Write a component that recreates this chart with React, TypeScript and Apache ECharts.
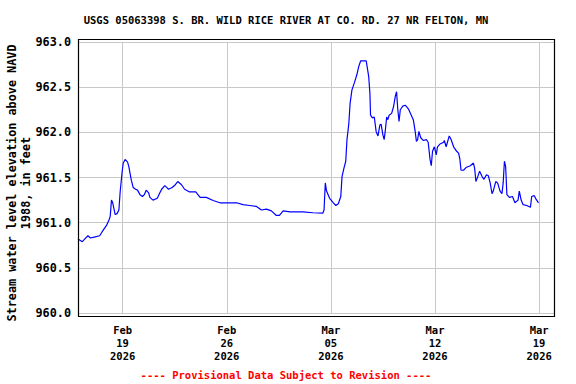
import React, { useEffect, useRef } from "react";
import * as echarts from "echarts";

const TITLE = "USGS 05063398 S. BR. WILD RICE RIVER AT CO. RD. 27 NR FELTON, MN";
const Y_NAME = "Stream water level elevation above NAVD\n1988, in feet";
const FOOTER = "---- Provisional Data Subject to Revision ----";

const X_MIN = "2026-02-16 00:00";
const X_MAX = "2026-03-20 00:00";
const TICK_DATES = ["2026-02-19 00:00", "2026-02-26 00:00", "2026-03-05 00:00", "2026-03-12 00:00", "2026-03-19 00:00"];
const MONTHS = ["Jan", "Feb", "Mar", "Apr", "May", "Jun", "Jul", "Aug", "Sep", "Oct", "Nov", "Dec"];

const Y_MIN = 960;
const Y_MAX = 963;
const Y_STEP = 0.5;

const times = [
  "2026-02-16 00:00", "2026-02-16 07:00", "2026-02-16 11:00", "2026-02-16 16:00", "2026-02-16 20:00",
  "2026-02-17 02:00", "2026-02-17 11:00", "2026-02-17 15:00", "2026-02-17 22:00", "2026-02-18 02:00",
  "2026-02-18 04:00", "2026-02-18 06:00", "2026-02-18 08:00", "2026-02-18 12:00", "2026-02-18 15:00",
  "2026-02-18 18:00", "2026-02-18 20:00", "2026-02-18 23:00", "2026-02-19 01:00", "2026-02-19 04:00",
  "2026-02-19 08:00", "2026-02-19 10:00", "2026-02-19 14:00", "2026-02-19 17:00", "2026-02-19 21:00",
  "2026-02-20 00:00", "2026-02-20 04:00", "2026-02-20 08:00", "2026-02-20 11:00", "2026-02-20 14:00",
  "2026-02-20 18:00", "2026-02-20 20:00", "2026-02-21 01:00", "2026-02-21 08:00", "2026-02-21 12:00",
  "2026-02-21 15:00", "2026-02-21 20:00", "2026-02-21 23:00", "2026-02-22 02:00", "2026-02-22 08:00",
  "2026-02-22 13:00", "2026-02-22 17:00", "2026-02-22 23:00", "2026-02-23 04:00", "2026-02-23 12:00",
  "2026-02-23 22:00", "2026-02-24 05:00", "2026-02-24 15:00", "2026-02-25 02:00", "2026-02-25 13:00",
  "2026-02-26 00:00", "2026-02-26 16:00", "2026-02-27 02:00", "2026-02-27 13:00", "2026-02-28 00:00",
  "2026-02-28 08:00", "2026-02-28 16:00", "2026-03-01 00:00", "2026-03-01 08:00", "2026-03-01 13:00",
  "2026-03-01 19:00", "2026-03-02 06:00", "2026-03-02 17:00", "2026-03-03 03:00", "2026-03-03 19:00",
  "2026-03-04 11:00", "2026-03-04 13:00", "2026-03-04 15:00", "2026-03-04 17:00", "2026-03-04 22:00",
  "2026-03-05 04:00", "2026-03-05 08:00", "2026-03-05 12:00", "2026-03-05 16:00", "2026-03-05 18:00",
  "2026-03-05 21:00", "2026-03-06 00:00", "2026-03-06 02:00", "2026-03-06 05:00", "2026-03-06 07:00",
  "2026-03-06 10:00", "2026-03-06 14:00", "2026-03-06 18:00", "2026-03-06 21:00", "2026-03-07 00:00",
  "2026-03-07 09:00", "2026-03-07 13:00", "2026-03-07 15:00", "2026-03-07 16:00", "2026-03-07 19:00",
  "2026-03-07 22:00", "2026-03-08 01:00", "2026-03-08 04:00", "2026-03-08 07:00", "2026-03-08 09:00",
  "2026-03-08 12:00", "2026-03-08 14:00", "2026-03-08 16:00", "2026-03-08 18:00", "2026-03-08 20:00",
  "2026-03-08 22:00", "2026-03-09 02:00", "2026-03-09 05:00", "2026-03-09 08:00", "2026-03-09 10:00",
  "2026-03-09 12:00", "2026-03-09 14:00", "2026-03-09 16:00", "2026-03-09 20:00", "2026-03-10 00:00",
  "2026-03-10 05:00", "2026-03-10 09:00", "2026-03-10 13:00", "2026-03-10 16:00", "2026-03-10 18:00",
  "2026-03-10 20:00", "2026-03-10 22:00", "2026-03-11 01:00", "2026-03-11 05:00", "2026-03-11 10:00",
  "2026-03-11 13:00", "2026-03-11 16:00", "2026-03-11 18:00", "2026-03-11 20:00", "2026-03-11 23:00",
  "2026-03-12 02:00", "2026-03-12 04:00", "2026-03-12 08:00", "2026-03-12 14:00", "2026-03-12 15:00",
  "2026-03-12 18:00", "2026-03-12 23:00", "2026-03-13 02:00", "2026-03-13 06:00", "2026-03-13 11:00",
  "2026-03-13 14:00", "2026-03-13 16:00", "2026-03-13 18:00", "2026-03-13 22:00", "2026-03-14 02:00",
  "2026-03-14 09:00", "2026-03-14 14:00", "2026-03-14 16:00", "2026-03-14 18:00", "2026-03-14 21:00",
  "2026-03-15 00:00", "2026-03-15 04:00", "2026-03-15 07:00", "2026-03-15 11:00", "2026-03-15 14:00",
  "2026-03-15 17:00", "2026-03-15 20:00", "2026-03-15 22:00", "2026-03-16 02:00", "2026-03-16 05:00",
  "2026-03-16 09:00", "2026-03-16 12:00", "2026-03-16 14:00", "2026-03-16 16:00", "2026-03-16 18:00",
  "2026-03-16 20:00", "2026-03-17 00:00", "2026-03-17 05:00", "2026-03-17 09:00", "2026-03-17 14:00",
  "2026-03-17 16:00", "2026-03-17 19:00", "2026-03-17 22:00", "2026-03-18 04:00", "2026-03-18 10:00",
  "2026-03-18 12:00", "2026-03-18 16:00", "2026-03-18 19:00", "2026-03-18 23:00",
];

const levels = [
  960.82, 960.79, 960.82, 960.855, 960.83,
  960.84, 960.855, 960.9, 960.97, 961.03,
  961.07, 961.25, 961.22, 961.09, 961.1,
  961.14, 961.34, 961.55, 961.66, 961.7,
  961.67, 961.62, 961.47, 961.39, 961.37,
  961.36, 961.31, 961.29, 961.31, 961.36,
  961.33, 961.28, 961.25, 961.27, 961.33,
  961.37, 961.41, 961.39, 961.37, 961.39,
  961.42, 961.455, 961.42, 961.37, 961.34,
  961.34, 961.28, 961.28, 961.245, 961.22,
  961.22, 961.22, 961.2, 961.19, 961.18,
  961.14, 961.15, 961.13, 961.08, 961.08,
  961.13, 961.12, 961.12, 961.12, 961.11,
  961.105, 961.14, 961.44, 961.35, 961.27,
  961.22, 961.19, 961.21, 961.29, 961.51,
  961.6, 961.68, 961.92, 962.1, 962.32,
  962.47, 962.55, 962.64, 962.73, 962.79,
  962.79, 962.62, 962.43, 962.19, 962.16,
  962.17, 962.01, 961.96, 962.08, 962.09,
  961.97, 961.92, 962.03, 962.17, 962.14,
  962.19, 962.21, 962.28, 962.4, 962.45,
  962.25, 962.12, 962.25, 962.29, 962.3,
  962.26, 962.2, 962.14, 962.01, 961.9,
  961.92, 962.01, 961.94, 961.91, 961.92,
  961.89, 961.7, 961.63, 961.79, 961.84,
  961.75, 961.84, 961.87, 961.89, 961.91,
  961.84, 961.96, 961.92, 961.84, 961.79,
  961.77, 961.71, 961.58, 961.58, 961.61,
  961.63, 961.66, 961.6, 961.455, 961.51,
  961.57, 961.51, 961.48, 961.53, 961.52,
  961.44, 961.32, 961.35, 961.455, 961.44,
  961.35, 961.32, 961.44, 961.68, 961.62,
  961.31, 961.28, 961.29, 961.22, 961.25,
  961.35, 961.25, 961.2, 961.19, 961.17,
  961.29, 961.3, 961.26, 961.22,
];

const MONO = '"DejaVu Sans Mono", "Liberation Mono", monospace';

const toMs = (s: string) => echarts.time.parse(s).getTime();

export default function App() {
  const ref = useRef<HTMLDivElement>(null);

  useEffect(() => {
    if (!ref.current) return;
    const chart = echarts.init(ref.current, null, { renderer: "svg" });
    const data = times.map((t, i) => [toMs(t), levels[i]]);
    const tickValues = TICK_DATES.map(toMs);

    const option: any = {
      animation: false,
      backgroundColor: "#ffffff",
      grid: { left: 78, right: 22, top: 42, bottom: 71, containLabel: false },
      xAxis: {
        type: "value",
        min: toMs(X_MIN),
        max: toMs(X_MAX),
        axisLine: { show: false },
        axisTick: { show: false, customValues: tickValues },
        axisLabel: {
          customValues: tickValues,
          margin: 10,
          lineHeight: 13,
          fontFamily: MONO,
          fontWeight: "bold",
          fontSize: 10.5,
          color: "#000",
          hideOverlap: false,
          formatter: (v: number) => {
            const d = new Date(v);
            return `${MONTHS[d.getMonth()]}\n${String(d.getDate()).padStart(2, "0")}\n${d.getFullYear()}`;
          },
        },
        splitLine: { show: true, lineStyle: { color: "#c8c8c8", width: 1 } },
      },
      yAxis: {
        type: "value",
        min: Y_MIN,
        max: Y_MAX,
        interval: Y_STEP,
        axisLine: { show: false },
        axisTick: { show: false },
        axisLabel: {
          margin: 7,
          fontFamily: MONO,
          fontWeight: "bold",
          fontSize: 11.8,
          color: "#000",
          formatter: (v: number) => v.toFixed(1),
        },
        splitLine: { show: true, lineStyle: { color: "#c8c8c8", width: 1 } },
      },
      series: [
        {
          type: "line",
          data,
          showSymbol: false,
          symbol: "none",
          lineStyle: { color: "#0000ff", width: 1.2 },
          silent: true,
        },
      ],
      graphic: [
        {
          type: "rect",
          z: 100,
          shape: { x: 78.5, y: 39.5, width: 476, height: 277 },
          style: { fill: "none", stroke: "#000000", lineWidth: 1.2 },
          silent: true,
        },
        {
          type: "text",
          x: 286,
          y: 20,
          style: {
            text: TITLE,
            align: "center",
            verticalAlign: "middle",
            font: `bold 10.5px ${MONO}`,
            fill: "#000",
          },
        },
        {
          type: "text",
          x: 19,
          y: 183,
          rotation: Math.PI / 2,
          style: {
            text: Y_NAME,
            align: "center",
            verticalAlign: "middle",
            lineHeight: 14,
            font: `bold 11.8px ${MONO}`,
            fill: "#000",
          },
        },
        {
          type: "text",
          x: 286,
          y: 375,
          style: {
            text: FOOTER,
            align: "center",
            verticalAlign: "middle",
            font: `bold 10.5px ${MONO}`,
            fill: "#ff0000",
          },
        },
      ],
    };

    chart.setOption(option);
    return () => chart.dispose();
  }, []);

  return <div ref={ref} style={{ width: 576, height: 384, position: "absolute", left: 0, top: 0 }} />;
}
